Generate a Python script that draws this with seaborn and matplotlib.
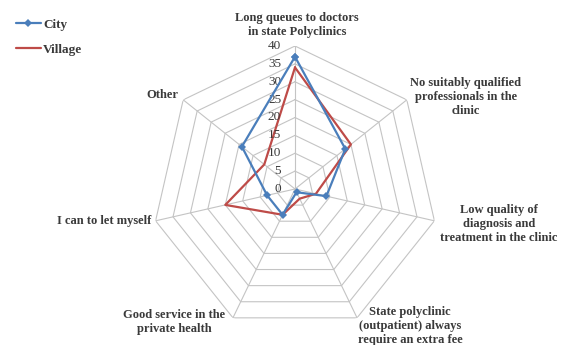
import numpy as np
import pandas as pd
import matplotlib
matplotlib.use("Agg")
import matplotlib.pyplot as plt
import matplotlib.transforms as mtransforms
import seaborn as sns

categories = [
    "Long queues to doctors\nin state Polyclinics",
    "No suitably qualified\nprofessionals in the\nclinic",
    "Low quality of\ndiagnosis and\ntreatment in the clinic",
    "State polyclinic\n(outpatient) always\nrequire an extra fee",
    "Good service in the\nprivate health",
    "I can to let myself",
    "Other",
]
city = [37, 18, 9, 1, 8, 8, 19]
village = [34, 20, 6, 3, 8, 20, 11]
series_names = ["City", "Village"]
r_ticks = [0, 5, 10, 15, 20, 25, 30, 35, 40]

sns.set_theme(style="white")
plt.rcParams["font.family"] = ["Liberation Serif", "DejaVu Serif"]

W, H = 567, 345
fig = plt.figure(figsize=(W / 100, H / 100), dpi=100)

cx, cy, R = 295, 189, 143
ax = fig.add_axes([(cx - R) / W, (H - cy - R) / H, 2 * R / W, 2 * R / H], projection="polar")
ax.set_theta_offset(np.pi / 2)
ax.set_theta_direction(-1)
ax.set_ylim(0, r_ticks[-1])
ax.grid(False)
ax.spines["polar"].set_visible(False)
ax.set_xticks([])
ax.set_yticks([])
ax.patch.set_alpha(0)

n = len(categories)
angles = np.arange(n) * 2 * np.pi / n
ring_angles = np.append(angles, angles[0])

grid_color = "#C4C4C4"
for r in r_ticks[1:]:
    ax.plot(ring_angles, [r] * (n + 1), color=grid_color, lw=0.8, zorder=1)
for a in angles:
    ax.plot([a, a], [0, r_ticks[-1]], color=grid_color, lw=0.8, zorder=1)

rows = []
for name, vals in zip(series_names, [city, village]):
    for i in range(n + 1):
        rows.append({"theta": angles[i] if i < n else 2 * np.pi, "value": vals[i % n], "series": name})
df = pd.DataFrame(rows)

blue = "#4A7EBB"
red = "#BE4B48"
sns.lineplot(data=df[df.series == "City"], x="theta", y="value", sort=False, ax=ax,
             color=blue, lw=3.0, marker="D", markersize=6.5, markeredgewidth=0, label="City", zorder=4)
sns.lineplot(data=df[df.series == "Village"], x="theta", y="value", sort=False, ax=ax,
             color=red, lw=3.0, label="Village", zorder=3)
ax.set_xlabel("")
ax.set_ylabel("")
ax.set_ylim(0, r_ticks[-1])

txt_color = "#3A3A3A"
off = mtransforms.offset_copy(ax.transData, fig=fig, x=-10, y=0, units="points")
for r in r_ticks:
    ax.text(0, r, str(r), transform=off, ha="right", va="center", fontsize=9.5,
            color=txt_color)

handles, labels = ax.get_legend_handles_labels()
for h in handles:
    h.set_linewidth(1.6)
    h.set_markersize(4)
leg = ax.legend(handles, labels, loc="upper left", bbox_to_anchor=(4 / W, 1 - 7 / H),
                bbox_transform=fig.transFigure, frameon=False, fontsize=9.5,
                labelspacing=0.95, handlelength=1.9, handletextpad=0.15)
for t in leg.get_texts():
    t.set_color(txt_color)
    t.set_fontweight("bold")

label_pos = [
    (297, 25, "center"),
    (466, 97, "center"),
    (499, 224, "center"),
    (410, 326, "center"),
    (174, 322, "center"),
    (151, 221, "right"),
    (178, 95, "right"),
]
for text, (x, y, ha) in zip(categories, label_pos):
    fig.text(x / W, 1 - y / H, text, ha=ha, va="center", fontsize=9, fontweight="bold",
             color=txt_color, linespacing=1.25, multialignment="center")

fig.savefig("out.png", dpi=100)
